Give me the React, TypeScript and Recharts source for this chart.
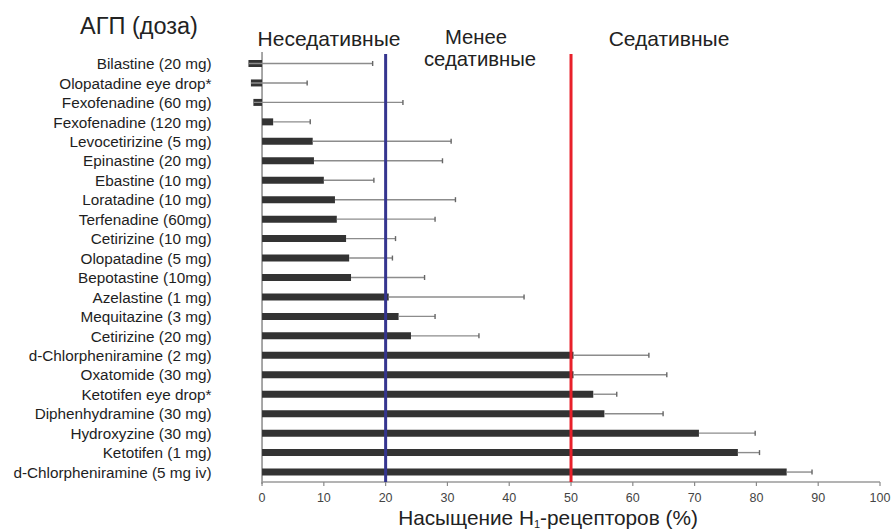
import React from 'react';
import { BarChart, Bar, XAxis, YAxis, ReferenceLine, ReferenceArea } from 'recharts';

const drugs = [
  'Bilastine (20 mg)',
  'Olopatadine eye drop*',
  'Fexofenadine (60 mg)',
  'Fexofenadine (120 mg)',
  'Levocetirizine (5 mg)',
  'Epinastine (20 mg)',
  'Ebastine (10 mg)',
  'Loratadine (10 mg)',
  'Terfenadine (60mg)',
  'Cetirizine (10 mg)',
  'Olopatadine (5 mg)',
  'Bepotastine (10mg)',
  'Azelastine (1 mg)',
  'Mequitazine (3 mg)',
  'Cetirizine (20 mg)',
  'd-Chlorpheniramine (2 mg)',
  'Oxatomide (30 mg)',
  'Ketotifen eye drop*',
  'Diphenhydramine (30 mg)',
  'Hydroxyzine (30 mg)',
  'Ketotifen (1 mg)',
  'd-Chlorpheniramine (5 mg iv)',
];

const saturation = [
  -2.2, -1.8, -1.4, 1.8, 8.2, 8.4, 10.0, 11.8, 12.1, 13.6, 14.1,
  14.4, 20.5, 22.1, 24.1, 50.4, 50.4, 53.6, 55.4, 70.7, 77.0, 84.9,
];

const upperLimit = [
  17.9, 7.3, 22.8, 7.8, 30.6, 29.2, 18.1, 31.3, 28.0, 21.6, 21.1,
  26.3, 42.4, 28.0, 35.1, 62.6, 65.5, 57.4, 64.9, 79.8, 80.5, 89.0,
];

const xTicks = [0, 10, 20, 30, 40, 50, 60, 70, 80, 90, 100];
const nonSedativeLimit = 20;
const sedativeLimit = 50;

const title = 'АГП (доза)';
const zoneNonSedative = 'Неседативные';
const zoneLessSedative1 = 'Менее';
const zoneLessSedative2 = 'седативные';
const zoneSedative = 'Седативные';

const data = drugs.map((name, i) => ({
  name,
  value: saturation[i],
  spread: upperLimit[i] - saturation[i],
}));

const FONT = '"Liberation Sans", Arial, Helvetica, sans-serif';

const ErrorShape = (props: any) => {
  const { x, y, width, height } = props;
  const cy = y + height / 2;
  const x2 = x + width;
  return (
    <g>
      <line x1={x} y1={cy} x2={x2} y2={cy} stroke="#8c8c8c" strokeWidth={1.4} />
      <line x1={x2} y1={cy - 2.5} x2={x2} y2={cy + 2.5} stroke="#666" strokeWidth={1.4} />
    </g>
  );
};

const AxesShape = (props: any) => {
  const { x, y, width, height } = props;
  return (
    <g>
      <line x1={x} y1={y - 2} x2={x} y2={y + height + 2} stroke="#8a8a8a" strokeWidth={1.5} />
      <line x1={x} y1={y + height} x2={x + width} y2={y + height} stroke="#9a9a9a" strokeWidth={1.5} />
    </g>
  );
};

export default function App() {
  return (
    <div style={{ position: 'absolute', left: 0, top: 0, width: 893, height: 530, background: '#fff', fontFamily: FONT }}>
      <BarChart
        width={893}
        height={530}
        data={data}
        layout="vertical"
        margin={{ top: 54, right: 13, bottom: 18, left: 0 }}
        barCategoryGap={0}
      >
        <XAxis
          type="number"
          domain={[-3, 100]}
          ticks={xTicks}
          interval={0}
          axisLine={false}
          tickSize={4}
          tickMargin={7}
          height={30}
          tickLine={{ stroke: '#8a8a8a', strokeWidth: 1.2 }}
          tick={{ fontSize: 12.5, fill: '#444', fontFamily: FONT }}
        />
        <YAxis
          type="category"
          dataKey="name"
          width={243.5}
          axisLine={false}
          tickLine={false}
          tickSize={0}
          tickMargin={32}
          interval={0}
          tick={{ fontSize: 15.3, fill: '#1e1e1e', fontFamily: FONT }}
        />
        <Bar dataKey="value" stackId="s" fill="#333333" barSize={7} isAnimationActive={false} />
        <Bar dataKey="spread" stackId="s" barSize={7} shape={ErrorShape} isAnimationActive={false} />
        <ReferenceArea x1={0} x2={100} fill="none" shape={AxesShape} ifOverflow="visible" />
        <ReferenceLine x={nonSedativeLimit} stroke="#35358f" strokeWidth={3} />
        <ReferenceLine x={sedativeLimit} stroke="#e8202a" strokeWidth={3} />
      </BarChart>
      <svg
        width={893}
        height={530}
        style={{ position: 'absolute', left: 0, top: 0, pointerEvents: 'none' }}
      >
        <g fontFamily={FONT} fill="#222">
          <text x={139} y={34} fontSize={23.5} textAnchor="middle">{title}</text>
          <text x={329} y={46} fontSize={21} textAnchor="middle">{zoneNonSedative}</text>
          <text fontSize={20.3} textAnchor="middle">
            <tspan x={476} y={43.5}>{zoneLessSedative1}</tspan>
            <tspan x={480} y={66}>{zoneLessSedative2}</tspan>
          </text>
          <text x={669} y={46} fontSize={21} textAnchor="middle">{zoneSedative}</text>
          <text x={548} y={525} fontSize={20.8} textAnchor="middle">
            Насыщение H<tspan fontSize={11} dy={2.5}>1</tspan>
            <tspan dy={-2.5}>-рецепторов (%)</tspan>
          </text>
        </g>
      </svg>
    </div>
  );
}
